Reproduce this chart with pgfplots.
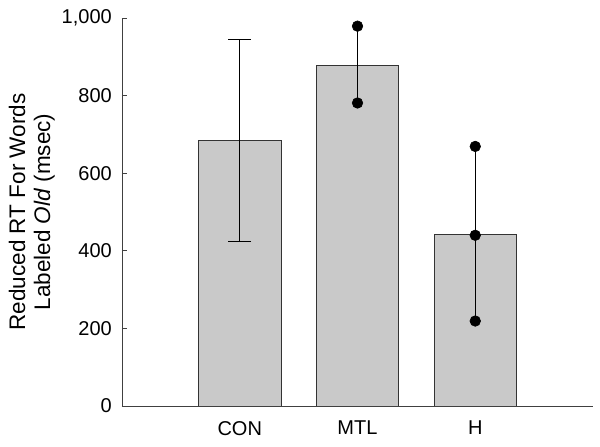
\documentclass[border=0pt]{standalone}
\usepackage{pgfplots}
\pgfplotsset{compat=1.18}
\usepackage{fontspec}
\setmainfont{Liberation Sans}
\begin{document}
\begin{tikzpicture}
\path[use as bounding box] (-122pt,-41pt) rectangle (478pt,406pt);
\begin{axis}[
  at={(0,0)}, anchor=south west,
  scale only axis, width=471pt, height=388pt,
  font=\fontsize{20}{24}\selectfont,
  xmin=-1, xmax=3, ymin=0, ymax=1000,
  axis x line*=bottom, axis y line*=left,
  axis line style={black!75, line width=0.8pt},
  xtick={0,1,2}, xticklabels={CON,MTL,H},
  x tick style={draw=none},
  ytick={0,200,...,1000},
  tick align=inside, major tick length=5pt,
  y tick style={black!75, line width=0.8pt},
  /pgf/number format/assume math mode=true,
  /pgf/number format/1000 sep={,},
  yticklabel style={anchor=east, inner sep=0pt, xshift=-10pt},
  xticklabel style={anchor=north, inner sep=0pt, yshift=-15pt},
  ylabel={Reduced RT For Words\\Labeled \textit{Old} (msec)},
  ylabel style={font=\fontsize{22.5}{25}\selectfont, align=center,
    at={(axis description cs:-0.1423,0.5)}, anchor=south, inner sep=0pt},
]
% bars
\addplot[ybar, bar width=0.7, bar shift=0pt, fill=black!21, draw=black!80, line width=0.8pt]
  coordinates {(0,685) (1,878) (2,443)};
% CON error bar
\addplot[draw=none, mark=none, error bars/.cd, y dir=both, y explicit,
  error mark=|,
  error bar style={black, line width=0.6pt},
  error mark options={black, line width=0.6pt, mark size=11.5pt}]
  coordinates {(0,685) +- (0,260)};
% individual points
\addplot[black, line width=0.6pt, mark=*, mark size=5.3pt] coordinates {(1,979) (1,781)};
\addplot[black, line width=0.6pt, mark=*, mark size=5.3pt] coordinates {(2,669) (2,440) (2,219)};
\end{axis}
\end{tikzpicture}
\end{document}
